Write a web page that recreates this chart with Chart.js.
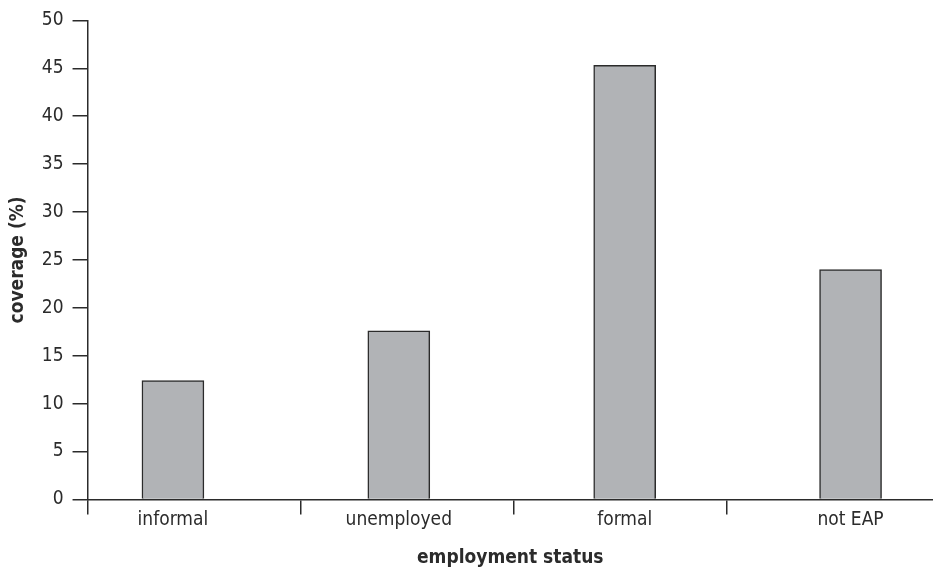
<!DOCTYPE html>
<html>
<head>
<meta charset="utf-8">
<script src="https://cdn.jsdelivr.net/npm/chart.js@4/dist/chart.umd.min.js"></script>
<style>
  html, body { margin: 0; padding: 0; background: #fff; }
  #wrap { width: 933px; height: 569px; }
</style>
</head>
<body>
<div id="wrap"><canvas id="coverageChart" width="933" height="569"></canvas></div>
<script>
// categories and values
const categories = ['informal', 'unemployed', 'formal', 'not EAP'];
const coverage = [12.4, 17.6, 45.3, 24.0];
const yTicks = [0, 5, 10, 15, 20, 25, 30, 35, 40, 45, 50];

const fontFamily = "'Liberation Sans Narrow', 'DejaVu Sans Condensed', Roboto, sans-serif";
const ink = '#2b2b2b';

// x range in category units; the axis tick marks sit between the bars
const xMin = -0.378;
const xMax = 3.365;
const edgeStep = 0.944;

const barData = categories.map((c, i) => ({ x: i, y: coverage[i] }));

const ctx = document.getElementById('coverageChart').getContext('2d');
const coverageChart = new Chart(ctx, {
    type: 'bar',
    data: {
        datasets: [{
            label: 'coverage',
            data: barData,
            backgroundColor: '#b1b3b6',
            borderColor: ink,
            borderWidth: 1.5,
            barThickness: 62
        }]
    },
    options: {
        responsive: false,
        animation: false,
        layout: { padding: { left: 0, right: 0, top: 9, bottom: 0 } },
        plugins: {
            legend: { display: false },
            tooltip: { enabled: false }
        },
        scales: {
            x: {
                type: 'linear',
                min: xMin,
                max: xMax,
                offset: false,
                afterBuildTicks: axis => {
                    const ticks = [];
                    for (let v = xMin; v < xMax; v += edgeStep) ticks.push({ value: v, edge: true });
                    categories.forEach((c, i) => ticks.push({ value: i, edge: false }));
                    ticks.sort((a, b) => a.value - b.value);
                    axis.ticks = ticks;
                },
                ticks: {
                    autoSkip: false,
                    maxRotation: 0,
                    padding: -6,
                    color: ink,
                    font: { family: fontFamily, size: 19 },
                    callback: function (value, index, ticks) {
                        return ticks[index].edge ? '' : categories[Math.round(value)];
                    }
                },
                grid: {
                    offset: false,
                    drawOnChartArea: false,
                    drawTicks: true,
                    tickLength: 15,
                    lineWidth: 1.5,
                    color: c => (c.tick && c.tick.edge) ? ink : 'rgba(0,0,0,0)'
                },
                border: { display: true, color: ink, width: 1.5 },
                title: {
                    display: true,
                    text: 'employment status',
                    color: ink,
                    font: { family: fontFamily, size: 19, weight: 'bold' },
                    padding: { top: 21, bottom: 0 }
                }
            },
            y: {
                min: 0,
                max: 50,
                afterBuildTicks: axis => {
                    axis.ticks = yTicks.map(v => ({ value: v }));
                },
                ticks: {
                    padding: 9,
                    color: ink,
                    font: { family: fontFamily, size: 19 }
                },
                grid: {
                    drawOnChartArea: false,
                    drawTicks: true,
                    tickLength: 15,
                    lineWidth: 1.5,
                    color: ink
                },
                border: { display: true, color: ink, width: 1.5 },
                title: {
                    display: true,
                    text: 'coverage (%)',
                    color: ink,
                    font: { family: fontFamily, size: 19, weight: 'bold' },
                    padding: { top: 7, bottom: 3 }
                }
            }
        }
    }
});
</script>
</body>
</html>
